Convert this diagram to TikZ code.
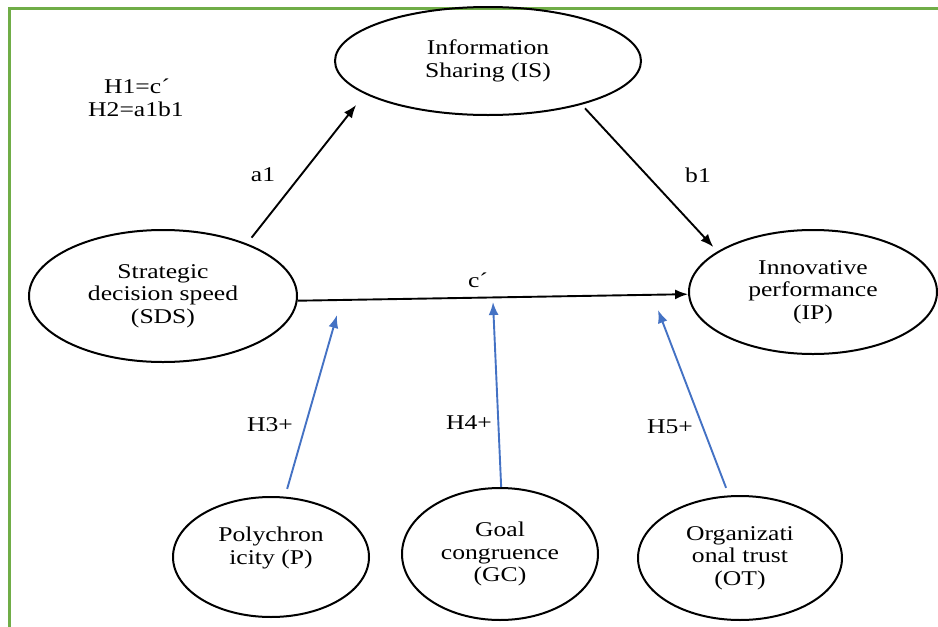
\documentclass[tikz,border=0pt]{standalone}
\usepackage{fontspec}
\setmainfont{Liberation Serif}[FakeStretch=1.22]
\usetikzlibrary{shapes.geometric,arrows.meta}
\definecolor{frameg}{RGB}{112,173,71}
\definecolor{modblue}{RGB}{68,114,196}
\begin{document}
\begin{tikzpicture}[x=1pt,y=-1pt,
  every node/.style={font=\fontsize{21}{22.5}\selectfont, inner sep=0pt},
  oval/.style={ellipse, draw, line width=2pt, inner sep=0pt, align=center},
  arr/.style={line width=1.9pt, -{Latex[length=13pt,width=10pt]}},
  marr/.style={arr, draw=modblue, -{Latex[length=13pt,width=10pt,fill=modblue]}}]
\useasboundingbox (0,0) rectangle (938,627);
\draw[frameg, line width=3pt] (9,627) -- (9,8) -- (938,8);
% nodes
\node[oval, minimum width=306pt, minimum height=108pt] (IS) at (488,61) {Information\\Sharing (IS)};
\node[oval, minimum width=268pt, minimum height=132pt] (SDS) at (163,296) {Strategic\\decision speed\\(SDS)};
\node[oval, minimum width=248pt, minimum height=124pt] (IP) at (813,292) {Innovative\\performance\\(IP)};
\node[oval, minimum width=196pt, minimum height=120pt] (P) at (271,557) {Polychron\\icity (P)\\\mbox{}};
\node[oval, minimum width=196pt, minimum height=132pt] (GC) at (500,554) {Goal\\congruence\\(GC)};
\node[oval, minimum width=204pt, minimum height=124pt] (OT) at (740,558) {Organizati\\onal trust\\(OT)};
% hypothesis text
\node (h1) at (137,86) {H1=c´};
\node (h2) at (136,109) {H2=a1b1};
% moderator targets
\coordinate (m3) at (337,315);
\coordinate (m4) at (493,302);
\coordinate (m5) at (658,310);
% main paths
\draw[arr, shorten <=7.5pt, shorten >=14pt] (SDS.32) -- (IS.195);
\draw[arr, shorten <=5pt, shorten >=6pt] (IS.-25) -- (IP.157.5);
\draw[arr] (SDS.-2) -- (IP.181);
% moderators
\draw[marr, shorten <=8pt] (P.77) -- (m3);
\draw[marr] (GC.89.5) -- (m4);
\draw[marr, shorten <=8pt] (OT.100) -- (m5);
% labels
\node (la1) at (263,175) {a1};
\node (lb1) at (698,175) {b1};
\node (lc) at (478,280) {c´};
\node (l3) at (270,425) {H3+};
\node (l4) at (469,423) {H4+};
\node (l5) at (670,427) {H5+};
\end{tikzpicture}
\end{document}
